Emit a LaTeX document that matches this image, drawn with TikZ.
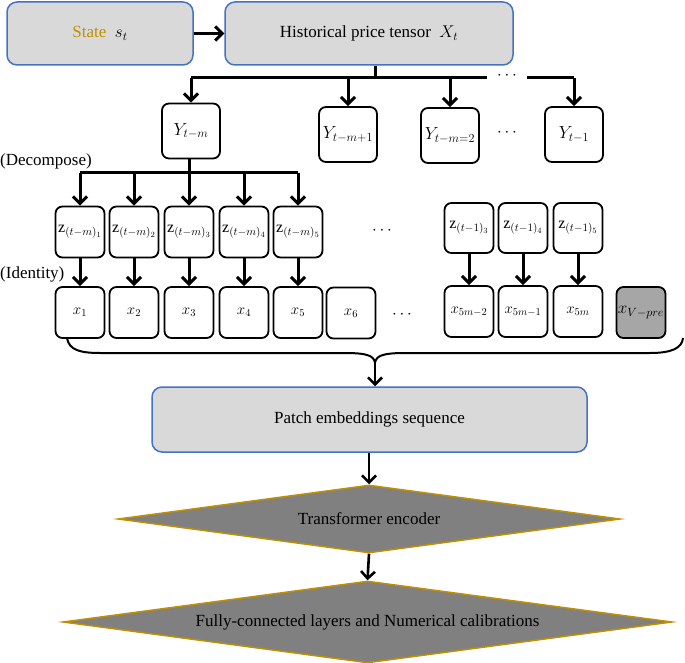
\RequirePackage{fix-cm}
\documentclass[tikz,border=0pt]{standalone}
\usepackage{fontspec}
\setmainfont{Liberation Serif}
\usetikzlibrary{arrows.meta,shapes.geometric}
\definecolor{boxgray}{HTML}{D9D9D9}
\definecolor{boxblue}{HTML}{4472C4}
\definecolor{stategold}{HTML}{BF9000}
\definecolor{diagray}{HTML}{808080}
\definecolor{dgold}{HTML}{BF9000}
\definecolor{vgray}{HTML}{A6A6A6}
\begin{document}
\begin{tikzpicture}[x=1pt,y=-1pt,
  bigbox/.style={draw=boxblue, fill=boxgray, line width=1.5pt, rounded corners=10pt, inner sep=0pt, font=\fontsize{17}{20}\selectfont},
  smallbox/.style={draw=black, fill=white, line width=1.8pt, rounded corners=7pt, minimum width=49pt, minimum height=51pt, inner sep=0pt},
  ybox/.style={smallbox, minimum width=58pt, minimum height=55pt, font=\fontsize{17.5}{20}\selectfont},
  zbox/.style={smallbox, minimum height=51pt, font=\fontsize{16}{18}\selectfont},
  xbox/.style={smallbox, font=\fontsize{15}{17}\selectfont},
  diam/.style={diamond, draw=dgold, fill=diagray, line width=1.5pt, inner sep=0pt, aspect=7, font=\fontsize{17}{20}\selectfont},
  lbl/.style={inner sep=0pt, font=\fontsize{17}{20}\selectfont},
  dotlbl/.style={inner sep=0pt, font=\fontsize{17}{20}\selectfont},
  conn/.style={line width=3pt},
  arr/.style={line width=3pt, -{Straight Barb[length=7pt,width=14pt]}}
]
\useasboundingbox (0,0) rectangle (685,663);

% top boxes
\node[bigbox, minimum width=186pt, minimum height=63pt] (state) at (100,33.5) {{\color{stategold}State}\enspace$s_t$};
\node[bigbox, minimum width=288pt, minimum height=63pt] (hist) at (369,33.5) {Historical price tensor\enspace$X_t$};
\draw[arr] (state) -- (hist);

% Y boxes
\node[ybox] (Ytm) at (191,131) {$Y_{t-m}$};
\node[ybox] (Ya) at (348,134.5) {$Y_{t-m+1}$};
\node[ybox] (Yb) at (450,135.5) {$Y_{t-m=2}$};
\node[ybox] (Yc) at (574,134.5) {$Y_{t-1}$};
\node[dotlbl] (ydots) at (507,133) {$\cdots$};

% bus from hist
\coordinate (hstem) at (375,78);
\coordinate (b1) at (191,78);
\coordinate (b2) at (348,78);
\coordinate (b3) at (450,78);
\coordinate (b4) at (574,78);
\coordinate (bgapL) at (487,78);
\coordinate (bgapR) at (527,78);
\node[dotlbl] (bdots) at (507,76) {$\cdots$};
\draw[conn] (hstem |- hist.south) -- (hstem);
\draw[conn] (b1) -- (bgapL);
\draw[conn] (bgapR) -- (b4);
\draw[arr] (b1) -- (Ytm.north);
\draw[arr] (b2) -- (Ya.north);
\draw[arr] (b3) -- (Yb.north);
\draw[arr] (b4) -- (Yc.north);

% labels
\node[lbl, anchor=west] (dec) at (0,161) {(Decompose)};
\node[lbl, anchor=west] (ide) at (0,274) {(Identity)};

% Z boxes
\node[zbox] (z1) at (80,232) {$\mathrm{z}_{(t-m)_1}$};
\node[zbox] (z2) at (134,232) {$\mathrm{z}_{(t-m)_2}$};
\node[zbox] (z3) at (189,232) {$\mathrm{z}_{(t-m)_3}$};
\node[zbox] (z4) at (244,232) {$\mathrm{z}_{(t-m)_4}$};
\node[zbox] (z5) at (298,232) {$\mathrm{z}_{(t-m)_5}$};
\node[dotlbl] (zdots) at (382,231) {$\cdots$};
\node[zbox, minimum height=50pt] (w3) at (469,228) {$\mathrm{z}_{(t-1)_3}$};
\node[zbox, minimum height=50pt] (w4) at (523,228) {$\mathrm{z}_{(t-1)_4}$};
\node[zbox, minimum height=50pt] (w5) at (578,228) {$\mathrm{z}_{(t-1)_5}$};

% decompose bus
\coordinate (d1) at (80,173);
\coordinate (d2) at (134,173);
\coordinate (d3) at (189,173);
\coordinate (d4) at (244,173);
\coordinate (d5) at (298,173);
\draw[conn] (Ytm.south -| d3) -- (d3);
\draw[conn] (d1) -- (d5);
\draw[arr] (d1) -- (z1.north);
\draw[arr] (d2) -- (z2.north);
\draw[arr] (d3) -- (z3.north);
\draw[arr] (d4) -- (z4.north);
\draw[arr] (d5) -- (z5.north);

% x boxes
\node[xbox] (x1) at (80,312.5) {$x_1$};
\node[xbox] (x2) at (134,312.5) {$x_2$};
\node[xbox] (x3) at (189,312.5) {$x_3$};
\node[xbox] (x4) at (244,312.5) {$x_4$};
\node[xbox] (x5) at (298,312.5) {$x_5$};
\node[xbox] (x6) at (351,313) {$x_6$};
\node[dotlbl] (xdots) at (402,315) {$\cdots$};
\node[xbox] (xa) at (469,311.5) {$x_{5m-2}$};
\node[xbox] (xb) at (523,311.5) {$x_{5m-1}$};
\node[xbox] (xc) at (578,311.5) {$x_{5m}$};
\node[xbox, fill=vgray, font=\fontsize{17}{20}\selectfont] (xv) at (641,312.5) {$x_{V-pre}$};

\draw[arr] (z1) -- (x1);
\draw[arr] (z2) -- (x2);
\draw[arr] (z3) -- (x3);
\draw[arr] (z4) -- (x4);
\draw[arr] (z5) -- (x5);
\draw[arr] (w3) -- (xa);
\draw[arr] (w4) -- (xb);
\draw[arr] (w5) -- (xc);

% brace
\coordinate (brL) at (67,338);
\coordinate (brR) at (683,338);
\coordinate (btip) at (375,363);
\draw[line width=2pt] (brL) .. controls (69,350) and (80,353) .. (100,353) -- (345,353)
   .. controls (368,353) and (374,356) .. (btip)
   .. controls (376,356) and (382,353) .. (405,353) -- (650,353)
   .. controls (672,353) and (682,348) .. (brR);

% lower part
\node[bigbox, minimum width=435pt, minimum height=65pt] (patch) at (369.5,419.5) {Patch embeddings sequence};
\draw[arr, line width=2.6pt] (btip) -- (btip |- patch.north);

\node[diam, minimum width=502pt, minimum height=68pt] (trans) at (369,519) {Transformer encoder};
\node[diam, minimum width=609pt, minimum height=82pt] (fc) at (367.5,622) {Fully-connected layers and Numerical calibrations};
\draw[arr, line width=2.6pt] (patch.south -| trans.north) -- (trans.north);
\draw[arr, line width=2.6pt] (trans.south) -- (fc.north);
\end{tikzpicture}
\end{document}
